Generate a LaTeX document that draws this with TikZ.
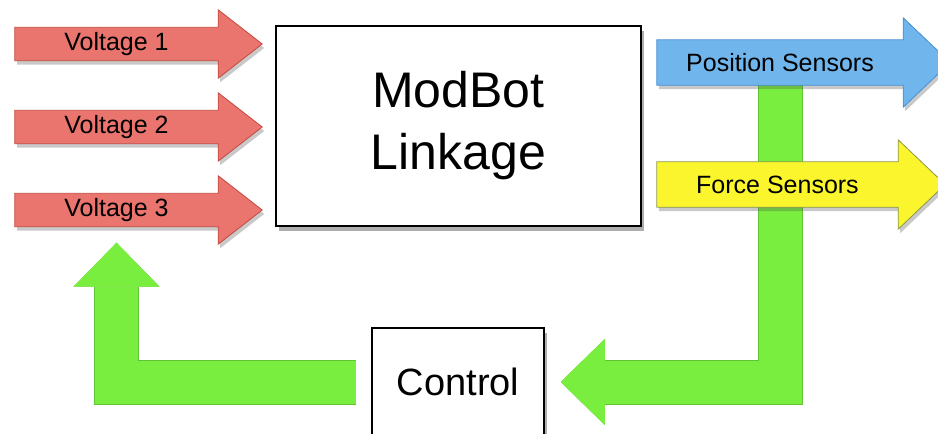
\documentclass[tikz,border=0pt]{standalone}
\usepackage{fontspec}
\setmainfont{Liberation Sans}
\usepackage{xcolor}
\usetikzlibrary{arrows.meta, positioning, shadows, backgrounds}

\definecolor{voltfill}{RGB}{234,116,110}
\definecolor{voltline}{RGB}{196,72,62}
\definecolor{posfill}{RGB}{112,182,236}
\definecolor{posline}{RGB}{70,142,212}
\definecolor{frcfill}{RGB}{250,245,45}
\definecolor{frcline}{RGB}{140,152,70}
\definecolor{fbfill}{RGB}{122,238,62}
\definecolor{fbline}{RGB}{96,196,52}

\begin{document}
\begin{tikzpicture}[
    x=1pt, y=-1pt,
    every node/.style={font=\fontsize{25}{30}\selectfont},
    blk/.style={draw=black, line width=1.5pt, fill=white,
                drop shadow={opacity=0.45, fill=black!70, shadow xshift=3pt, shadow yshift=-5pt}},
    shaft/.style={minimum height=33pt, minimum width=203pt, inner sep=0pt},
    body/.style={line width=0.8pt,
                 drop shadow={opacity=0.3, fill=black!70, shadow xshift=2pt, shadow yshift=-4pt}},
    fb/.style={draw=fbfill, line width=43pt,
               preaction={draw=fbline, line width=45pt},
               -{Triangle[length=44pt 0 0, width=86pt 0 0, line width=0pt 0 0]}},
  ]
    \useasboundingbox (0,0) rectangle (938,434);
    % blocks
    \node[blk, minimum width=365pt, minimum height=200pt, align=center,
          font=\fontsize{50}{62}\selectfont] (link) at (458.5,126) {ModBot\\Linkage};
    \node[blk, minimum width=172pt, minimum height=108pt,
          font=\fontsize{38}{46}\selectfont] (ctrl) at (458,382) {Control};
    % inputs and outputs
    \foreach \k/\y in {1/44, 2/127, 3/210}
      \node[shaft] (v\k) at (116.5,\y) {Voltage \k};
    \node[shaft, minimum width=246pt, minimum height=45pt] (possens) at (780,62.5) {Position Sensors};
    \node[shaft, minimum width=241pt, minimum height=45pt] (frcsens) at (777.5,184.5) {Force Sensors};
    \begin{scope}[on background layer]
      % feedback loop
      \draw[fb, shorten >=16pt] (possens) |- (ctrl);
      \draw[fb, shorten <=15pt, shorten >=16pt] (ctrl) -| (v3);
      % arrow bodies
      \foreach \n/\e/\h/\cf/\cl in {v1/17.5/44/voltfill/voltline, v2/17.5/44/voltfill/voltline,
          v3/17.5/44/voltfill/voltline, possens/22/47/posfill/posline, frcsens/22/47/frcfill/frcline}
        \filldraw[body, fill=\cf, draw=\cl] (\n.north west) -- (\n.north east)
          -- ([yshift=\e pt]\n.north east) -- ([xshift=\h pt]\n.east)
          -- ([yshift=-\e pt]\n.south east) -- (\n.south east) -- (\n.south west) -- cycle;
    \end{scope}
\end{tikzpicture}
\end{document}
